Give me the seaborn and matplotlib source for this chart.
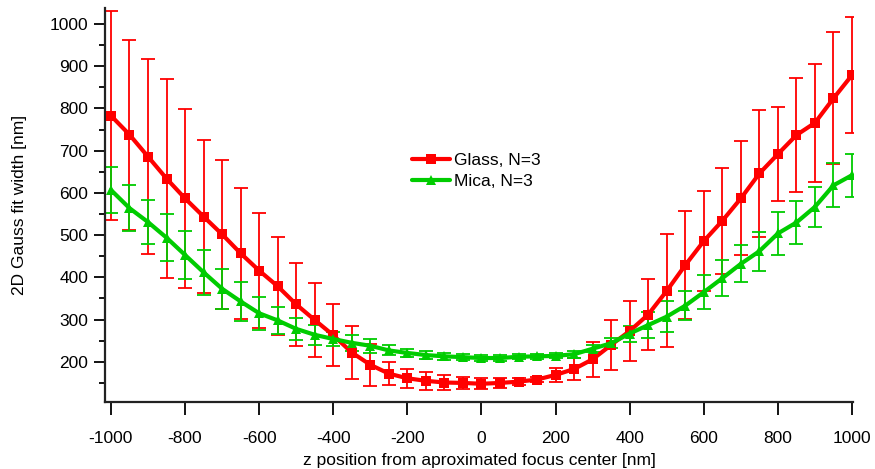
import numpy as np
import pandas as pd
import matplotlib
matplotlib.use("Agg")
import matplotlib.pyplot as plt
import seaborn as sns
from matplotlib.ticker import MultipleLocator

z_nm = list(range(-1000, 1001, 50))

glass_mean = [783, 738, 686, 634, 587, 544, 502, 457, 416, 379, 336, 299, 263, 222, 193,
              172, 161, 155, 151, 150, 148, 150, 153, 158, 169, 183, 206, 240, 273, 312,
              368, 429, 486, 534, 587, 646, 692, 737, 766, 824, 879]
glass_err = [247, 225, 231, 236, 211, 182, 176, 155, 136, 116, 98, 87, 74, 62, 50,
             27, 22, 22, 18, 14, 13, 12, 8, 6, 17, 26, 41, 59, 70, 83,
             134, 128, 118, 126, 135, 151, 111, 134, 140, 156, 138]
mica_mean = [607, 564, 531, 494, 453, 412, 373, 343, 315, 298, 278, 264, 254, 245, 238,
             227, 221, 216, 213, 211, 209, 209, 212, 213, 214, 218, 231, 244, 267, 287,
             307, 333, 365, 398, 432, 462, 504, 530, 567, 618, 642]
mica_err = [55, 54, 52, 56, 57, 53, 47, 46, 39, 33, 26, 24, 17, 19, 17,
            12, 10, 9, 8, 7, 6, 6, 6, 6, 6, 8, 8, 12, 19, 30,
            36, 35, 40, 43, 44, 46, 50, 52, 48, 52, 51]

series_names = ["Glass, N=3", "Mica, N=3"]
x_ticks = [-1000, -800, -600, -400, -200, 0, 200, 400, 600, 800, 1000]
y_ticks = [200, 300, 400, 500, 600, 700, 800, 900, 1000]

df = pd.concat([
    pd.DataFrame({"z": z_nm, "w": glass_mean, "err": glass_err, "s": series_names[0]}),
    pd.DataFrame({"z": z_nm, "w": mica_mean, "err": mica_err, "s": series_names[1]}),
])

sns.set_style("ticks")
plt.rcParams["font.family"] = ["Liberation Sans", "DejaVu Sans"]
plt.rcParams["text.color"] = "black"
plt.rcParams["axes.labelcolor"] = "black"

colors = {series_names[0]: "#ff0000", series_names[1]: "#00cc00"}
markers = {series_names[0]: "s", series_names[1]: "^"}

fig = plt.figure(figsize=(8.75, 4.69), dpi=100)
ax = fig.add_axes([0.12, 0.143, 0.855, 0.84])

for name in series_names:
    sub = df[df["s"] == name]
    ax.errorbar(sub["z"], sub["w"], yerr=sub["err"], fmt="none", ecolor=colors[name],
                elinewidth=1.3, capsize=5, capthick=1.3, zorder=2)

sns.lineplot(data=df, x="z", y="w", hue="s", style="s", palette=colors, markers=markers,
             dashes=False, linewidth=3.0, markersize=7.5, markeredgewidth=0, ax=ax, zorder=3)

ax.set_xlim(-1016, 1003)
ax.set_ylim(105, 1038)
ax.set_xticks(x_ticks)
ax.set_yticks(y_ticks)
ax.yaxis.set_minor_locator(MultipleLocator(50))
ax.tick_params(axis="x", which="major", direction="out", length=9, width=1.3,
               labelsize=12.5, colors="black", pad=12)
ax.tick_params(axis="y", which="major", direction="out", length=8, width=1.3,
               labelsize=12.5, colors="black", pad=4)
ax.tick_params(axis="y", which="minor", direction="out", length=4, width=1.3, colors="black")
ax.set_xticklabels([str(t) for t in x_ticks])
for sp in ["top", "right"]:
    ax.spines[sp].set_visible(False)
for sp in ["left", "bottom"]:
    ax.spines[sp].set_linewidth(1.6)
    ax.spines[sp].set_color("#222222")

ax.set_xlabel("z position from aproximated focus center [nm]", fontsize=12.5, labelpad=5, color="black")
ax.set_ylabel("2D Gauss fit width [nm]", fontsize=12.5, labelpad=16, color="black")

handles, labels = ax.get_legend_handles_labels()
leg = ax.legend(handles=handles, labels=labels, loc="upper left",
                bbox_to_anchor=(0.471, 0.675), bbox_transform=fig.transFigure,
                frameon=False, fontsize=12.5, handlelength=2.2, handletextpad=0.2,
                labelspacing=0.35, borderaxespad=0, borderpad=0)
for t in leg.get_texts():
    t.set_color("black")

fig.savefig("out.png", dpi=100)
